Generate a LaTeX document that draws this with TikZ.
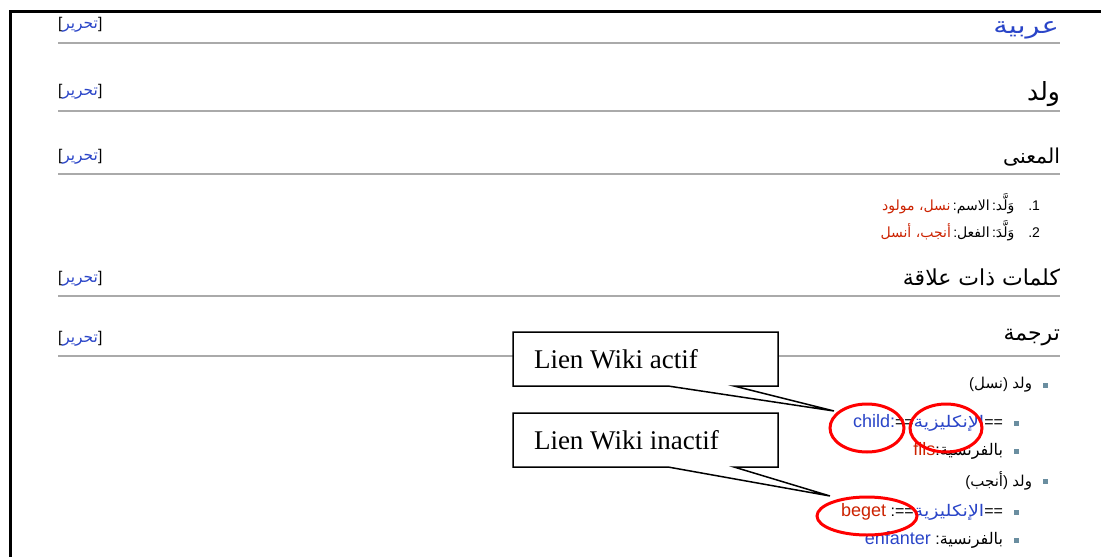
\documentclass[tikz,border=0pt]{standalone}
\usepackage{fontspec}
\usepackage{graphicx}
\TeXXeTstate=1
\newfontfamily\ar[Script=Arabic]{DejaVu Sans}
\newfontfamily\lat{Liberation Sans}
\newfontfamily\tms{Liberation Serif}
\definecolor{linkblue}{HTML}{2A45C8}
\definecolor{linkred}{HTML}{CC2200}
\definecolor{rulegray}{HTML}{AAAAAA}
\definecolor{bulletc}{HTML}{6A8EA0}
\newcommand{\R}[1]{{\ar\beginR #1\endR}}
\newcommand{\RW}[2]{\scalebox{#1}[1]{\R{#2}}}
\newcommand{\lt}[1]{{\lat\fontsize{18}{20}\selectfont #1}}
\begin{document}
\begin{tikzpicture}[x=1pt,y=-1pt,
  every node/.style={inner sep=0pt, outer sep=0pt},
  heading/.style={anchor=east, font=\lat\fontsize{22}{25}\selectfont},
  editlink/.style={anchor=west, font=\lat\fontsize{15.5}{17}\selectfont},
  sectrule/.style={draw=rulegray, line width=1.3pt},
  body/.style={anchor=east, font=\lat\fontsize{16}{18}\selectfont},
  numbered/.style={anchor=east, font=\lat\fontsize{14}{16}\selectfont},
  bulletsq/.style={fill=bulletc, minimum size=5pt, inner sep=0pt},
  callout/.style={draw=black, fill=white, line width=1.5pt, line join=miter},
  callouttext/.style={anchor=west, font=\tms\fontsize{27}{30}\selectfont},
  ring/.style={draw=red, line width=3pt}
]
\useasboundingbox (0,0) rectangle (1101,557);
\fill[white] (0,0) rectangle (1101,557);
% frame
\draw[line width=3pt] (10,557) -- (10,11) -- (1101,11);

% section rules
\foreach \yy in {43,111,174,296,356} \draw[sectrule] (58,\yy) -- (1060,\yy);

% headings
\node[heading, text=linkblue, font=\lat\fontsize{23}{26}\selectfont] (h1) at (1059,30) {\RW{1.26}{عربية}};
\node[heading, font=\lat\fontsize{25}{28}\selectfont] (h2) at (1060,94) {\R{ولد}};
\node[heading, font=\lat\fontsize{20.5}{23}\selectfont] (h3) at (1060,157) {\R{المعنى}};
\node[heading] (h4) at (1060,277) {\R{كلمات ذات علاقة}};
\node[heading] (h5) at (1060,338) {\R{ترجمة}};

% edit links
\node[editlink] (e1) at (58,25) {[\textcolor{linkblue}{\R{تحرير}}]};
\node[editlink] (e2) at (58,92) {[\textcolor{linkblue}{\R{تحرير}}]};
\node[editlink] (e3) at (58,157) {[\textcolor{linkblue}{\R{تحرير}}]};
\node[editlink] (e4) at (58,279) {[\textcolor{linkblue}{\R{تحرير}}]};
\node[editlink] (e5) at (58,339) {[\textcolor{linkblue}{\R{تحرير}}]};

% numbered definitions
\node[numbered] (d1) at (1040,204) {\textcolor{linkred}{\R{نسل، مولود}}\,:\R{الاسم}\,:\R{وَلَّد}\quad.1};
\node[numbered] (d2) at (1040,231) {\textcolor{linkred}{\R{أنجب، أنسل}}\,:\R{الفعل}\,:\R{وَلَّدَ}\quad.2};

% bullets
\node[bulletsq] (b1) at (1045,385) {};
\node[bulletsq] (b2) at (1045,481) {};
\node[bulletsq] (s1) at (1016,423) {};
\node[bulletsq] (s2) at (1016,451) {};
\node[bulletsq] (s3) at (1016,512) {};
\node[bulletsq] (s4) at (1016,540) {};

\node[numbered, font=\lat\fontsize{15}{17}\selectfont] (t1) at (1032,385) {(\R{نسل}) \R{ولد}};
\node[body] (t2) at (1003,423) {\lt{\textcolor{linkblue}{child:}}==\textcolor{linkblue}{\RW{1.2}{الإنكليزية}}==};
\node[body] (t3) at (1003,451) {\lt{\textcolor{linkred}{fils}}:\R{بالفرنسية}};
\node[numbered, font=\lat\fontsize{15}{17}\selectfont] (t4) at (1032,481) {(\R{أنجب}) \R{ولد}};
\node[body] (t5) at (1003,512) {\lt{\textcolor{linkred}{beget}} :==\textcolor{linkblue}{\RW{1.2}{الإنكليزية}}==};
\node[body] (t6) at (1003,540) {\lt{\textcolor{linkblue}{enfanter}} :\R{بالفرنسية}};

% red rings
\draw[ring] (867,428) ellipse [x radius=37, y radius=24];
\draw[ring] (946,428) ellipse [x radius=36, y radius=24];
\draw[ring] (867,516) ellipse [x radius=50, y radius=19];

% callouts
\coordinate (tipA) at (834,411);
\coordinate (tipB) at (830,496);
\draw[callout] (513,332) -- (778,332) -- (778,386) -- (734,386) -- (tipA) -- (668,386) -- (513,386) -- cycle;
\draw[callout] (513,413) -- (778,413) -- (778,467) -- (734,467) -- (tipB) -- (668,467) -- (513,467) -- cycle;
\node[callouttext] (c1) at (534,359) {Lien Wiki actif};
\node[callouttext] (c2) at (534,440) {Lien Wiki inactif};
\end{tikzpicture}
\end{document}
